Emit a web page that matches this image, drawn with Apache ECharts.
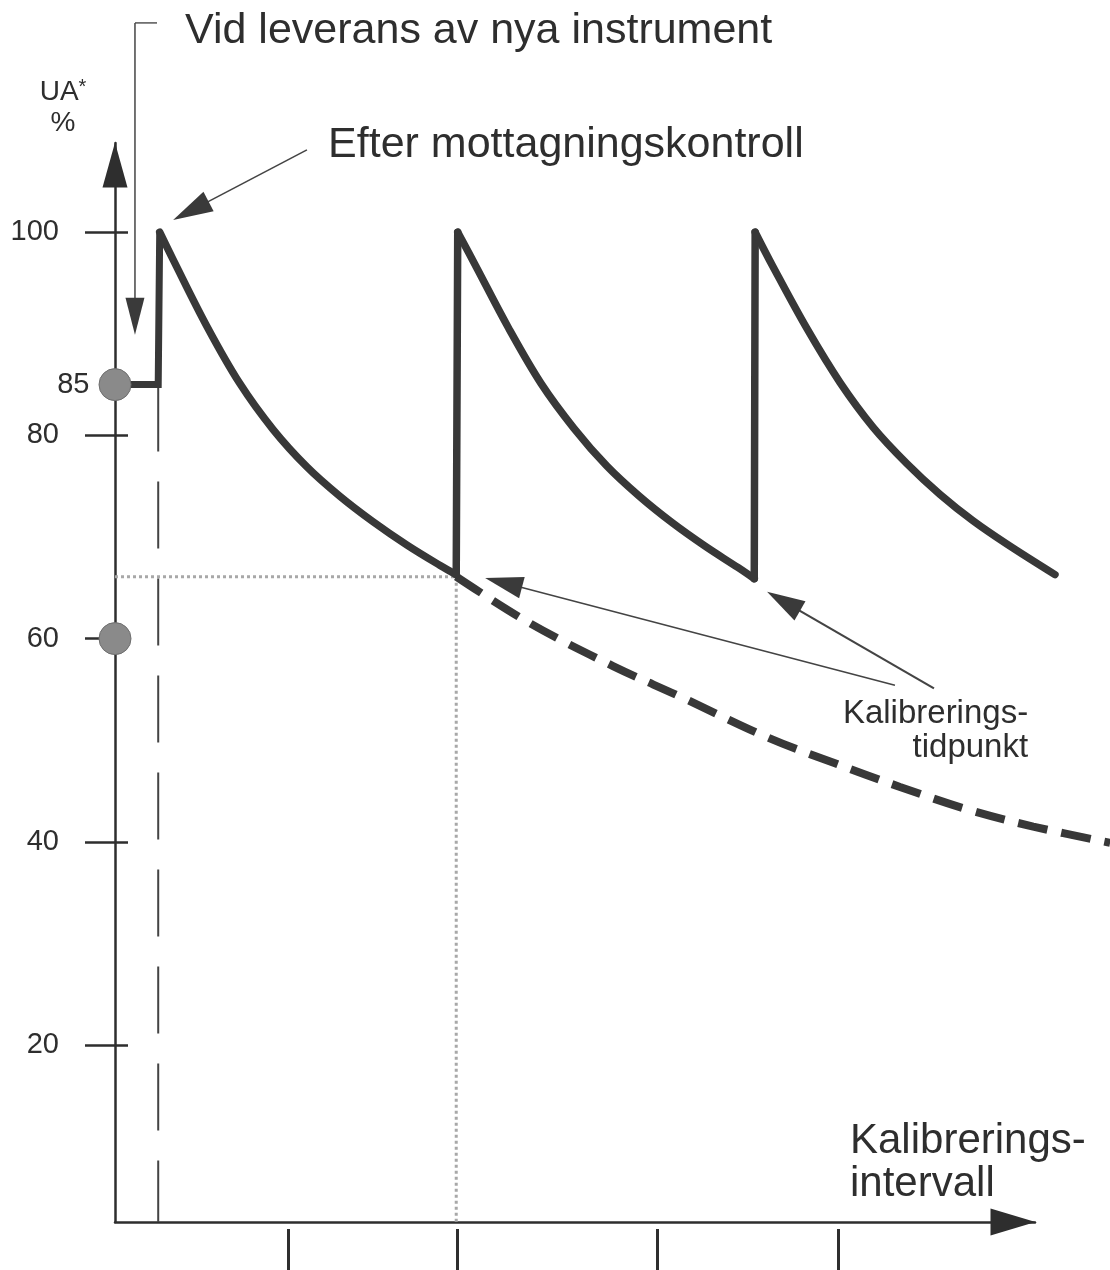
<!DOCTYPE html>
<html><head><meta charset="utf-8">
<script src="https://cdn.jsdelivr.net/npm/echarts@6/dist/echarts.min.js"></script>
<style>html,body{margin:0;padding:0;background:#fff}#c{width:1110px;height:1270px}</style>
</head><body><div id="c"></div>
<script>
// ---- data (x: time in arbitrary units, one calibration interval = 10; y: UA* %) ----
const yTicks = [20, 40, 60, 80, 100];
const xTicks = [5.8, 11.48, 18.19, 24.26];
const yRange = [2.58, 108.78];
const xRange = [0, 30.87];
const deliveryStep = [[0, 85], [1.45, 85], [1.5, 100]];
const decay1 = [[1.5, 100], [1.95, 97.3], [3.09, 90.7], [4.19, 85.1], [5.3, 80.6], [6.44, 76.9], [7.55, 74.0], [8.66, 71.5], [9.8, 69.2], [10.91, 67.2], [11.45, 66.3]];
const jump1 = [[11.45, 66.3], [11.5, 100]];
const decay2 = [[11.5, 100], [12.1, 96.7], [13.2, 90.6], [14.3, 85.1], [15.4, 80.7], [16.5, 77.0], [17.6, 74.0], [18.7, 71.4], [19.8, 69.1], [20.9, 67.0], [21.45, 65.9]];
const jump2 = [[21.45, 65.9], [21.48, 100]];
const decay3 = [[21.48, 100], [22.08, 96.6], [23.22, 90.5], [24.33, 85.2], [25.44, 80.8], [26.58, 77.2], [27.68, 74.2], [28.79, 71.6], [29.93, 69.3], [31.54, 66.3]];
const noCalibration = [[11.45, 66.1], [13.93, 61.5], [16.71, 57.3], [18.96, 54.3], [21.88, 50.3], [24.09, 47.8], [26.34, 45.4], [28.59, 43.2], [30.81, 41.5], [33.39, 39.9]];
const calibLevel = [[0, 66.1], [11.45, 66.1]];
const calibTime = [[11.45, 66.1], [11.45, 2.58]];
const deliveryTime = [[1.45, 85], [1.45, 2.58]];
const markedValues = [[0, 85, '85'], [0, 60, '']];
const texts = {
  delivery: 'Vid leverans av nya instrument',
  accept: 'Efter mottagningskontroll',
  calib: 'Kalibrerings-\ntidpunkt',
  xName: 'Kalibrerings-\nintervall'
};
// annotation anchors (data units)
const deliveryArrow = [[0.67, 120.6], [0.67, 89.9]];
const deliveryBracket = [[0.67, 120.6], [1.41, 120.6]];
const acceptArrow = [[6.44, 108.1], [1.95, 101.2]];
const calibArrows = [[[26.17, 55.4], [12.42, 65.97]], [[27.48, 55.1], [21.88, 64.6]]];
const textAnchors = { delivery: [2.35, 119.8], accept: [7.15, 108.6], calib: [30.64, 50.9] };

const FONT = "'Liberation Sans', Arial, Helvetica, sans-serif";
const INK = '#2e2e2e';
const CURVE = '#383838';

const chart = echarts.init(document.getElementById('c'), null, { renderer: 'canvas' });

// grid 1 extends to the right page edge with the same px-per-unit as grid 0
const wideMax = xRange[1] * (1110 - 115) / (1110 - 75 - 115);

function curve(data, smooth, wide) {
  return {
    type: 'line', data, smooth: smooth ? 0.35 : false, showSymbol: false, silent: true,
    xAxisIndex: wide ? 2 : 0, yAxisIndex: wide ? 2 : 0,
    lineStyle: { color: CURVE, width: 7.5, cap: 'round', join: 'miter' }, z: 3
  };
}
const hidden = { axisLine: { show: false }, axisTick: { show: false }, axisLabel: { show: false }, splitLine: { show: false } };

const option = {
  backgroundColor: '#fff',
  animation: false,
  textStyle: { fontFamily: FONT },
  grid: [
    { left: 115, right: 75, top: 143, bottom: 48, containLabel: false, outerBoundsMode: 'none' },
    { left: 115, right: 0, top: 143, bottom: 48, containLabel: false, outerBoundsMode: 'none' }
  ],
  xAxis: [{
    type: 'value', gridIndex: 0, min: xRange[0], max: xRange[1],
    name: texts.xName, nameLocation: 'end', nameGap: -185, nameMoveOverlap: false,
    nameTextStyle: { fontSize: 42, color: INK, align: 'left', verticalAlign: 'bottom', lineHeight: 43, padding: [0, 0, 16, 0], fontFamily: FONT },
    axisLine: { show: true, onZero: false, symbol: ['none', 'triangle'], symbolSize: [27, 45], symbolOffset: [0, -22], lineStyle: { color: INK, width: 2.5 } },
    axisTick: { show: false }, axisLabel: { show: false }, splitLine: { show: false }
  }, {
    type: 'value', gridIndex: 0, min: xRange[0], max: xRange[1], position: 'bottom', offset: 7,
    axisLine: { show: false },
    axisTick: { show: true, length: 45, customValues: xTicks, lineStyle: { color: INK, width: 3 } },
    axisLabel: { show: false }, splitLine: { show: false }
  }, Object.assign({ type: 'value', gridIndex: 1, min: xRange[0], max: wideMax }, hidden)],
  yAxis: [{
    type: 'value', gridIndex: 0, min: yRange[0], max: yRange[1],
    name: '{u|UA}{s|*}\n{u|%}', nameLocation: 'end', nameGap: 4, nameMoveOverlap: false,
    nameTextStyle: { align: 'center', padding: [0, 104, 0, 0], rich: {
      u: { fontSize: 28, color: INK, lineHeight: 31, fontFamily: FONT },
      s: { fontSize: 20, color: INK, verticalAlign: 'top', lineHeight: 31, fontFamily: FONT }
    } },
    axisLine: { show: true, onZero: false, symbol: ['none', 'triangle'], symbolSize: [25, 45], symbolOffset: [0, -22], lineStyle: { color: INK, width: 2.5 } },
    axisTick: { show: true, length: 30, customValues: yTicks, lineStyle: { color: INK, width: 2.5 } },
    axisLabel: { show: true, customValues: yTicks, margin: 56, fontSize: 29, color: INK, fontFamily: FONT },
    splitLine: { show: false }
  }, {
    type: 'value', gridIndex: 0, min: yRange[0], max: yRange[1], position: 'left',
    axisLine: { show: false },
    axisTick: { show: true, inside: true, length: 13, customValues: yTicks, lineStyle: { color: INK, width: 2.5 } },
    axisLabel: { show: false }, splitLine: { show: false }
  }, Object.assign({ type: 'value', gridIndex: 1, min: yRange[0], max: yRange[1] }, hidden)],
  series: [
    { type: 'line', data: calibLevel, showSymbol: false, silent: true, lineStyle: { color: '#a8a8a8', width: 3, type: 'dotted' }, z: 1 },
    { type: 'line', data: calibTime, showSymbol: false, silent: true, lineStyle: { color: '#a8a8a8', width: 3, type: 'dotted' }, z: 1 },
    { type: 'line', data: deliveryTime, showSymbol: false, silent: true, lineStyle: { color: '#444', width: 2, type: [67, 30] }, z: 1 },
    { type: 'line', data: noCalibration, xAxisIndex: 2, yAxisIndex: 2, showSymbol: false, silent: true, smooth: 0.35,
      lineStyle: { color: CURVE, width: 8, type: [30, 14], cap: 'butt' }, z: 2 },
    { type: 'line', data: deliveryStep, showSymbol: false, silent: true,
      lineStyle: { color: CURVE, width: 7, cap: 'butt', join: 'miter' }, z: 3 },
    curve(decay1, true), curve(jump1, false), curve(decay2, true), curve(jump2, false), curve(decay3, true, true),
    { type: 'scatter', data: markedValues, clip: false, silent: true, symbol: 'circle', symbolSize: 32,
      itemStyle: { color: '#8a8a8a', borderColor: '#6e6e6e', borderWidth: 1, opacity: 1 },
      label: { show: true, position: 'left', distance: 9, formatter: p => p.value[2], fontSize: 29, color: INK, opacity: 1, fontFamily: FONT },
      z: 5 }
  ]
};
chart.setOption(option);

const P = p => chart.convertToPixel({ seriesIndex: 0 }, p);
function arrow(from, to, L, W, lw) {
  const a = P(from), b = P(to);
  const dx = b[0] - a[0], dy = b[1] - a[1], d = Math.hypot(dx, dy);
  const ux = dx / d, uy = dy / d;
  const bx = b[0] - ux * L, by = b[1] - uy * L;
  return [
    { type: 'line', silent: true, shape: { x1: a[0], y1: a[1], x2: bx + ux * 2, y2: by + uy * 2 }, style: { stroke: '#444', lineWidth: lw } },
    { type: 'polygon', silent: true, shape: { points: [[b[0], b[1]], [bx - uy * W / 2, by + ux * W / 2], [bx + uy * W / 2, by - ux * W / 2]] }, style: { fill: '#3a3a3a' } }
  ];
}
function text(str, at, align, size, lh) {
  const p = P(at);
  return { type: 'text', silent: true, x: p[0], y: p[1], style: { text: str, fill: INK, fontSize: size, fontFamily: FONT, align: align, verticalAlign: 'middle', lineHeight: lh } };
}
const b0 = P(deliveryBracket[0]), b1 = P(deliveryBracket[1]);
const graphic = [].concat(
  [{ type: 'line', silent: true, shape: { x1: b0[0], y1: b0[1], x2: b1[0], y2: b1[1] }, style: { stroke: '#555', lineWidth: 1.5 } }],
  arrow(deliveryArrow[0], deliveryArrow[1], 37, 19, 1.5),
  arrow(acceptArrow[0], acceptArrow[1], 40, 22, 1.6),
  arrow(calibArrows[0][0], calibArrows[0][1], 38, 22, 1.6),
  arrow(calibArrows[1][0], calibArrows[1][1], 38, 22, 2.2),
  [text(texts.delivery, textAnchors.delivery, 'left', 43, 46),
   text(texts.accept, textAnchors.accept, 'left', 43, 46),
   text(texts.calib, textAnchors.calib, 'right', 33, 34)]
);
chart.setOption({ graphic: graphic });
</script>
</body></html>
